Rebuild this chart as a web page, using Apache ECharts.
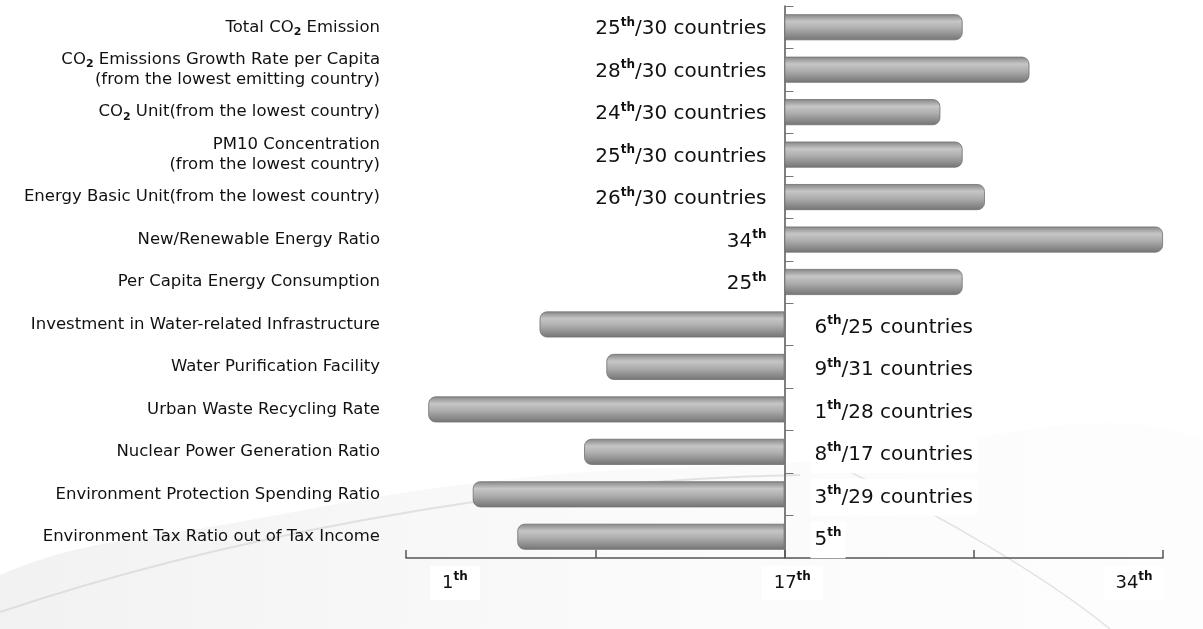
<!DOCTYPE html>
<html>
<head>
<meta charset="utf-8">
<title>Environmental Indicator Rankings</title>
<script src="https://cdn.jsdelivr.net/npm/echarts@6/dist/echarts.min.js"></script>
<style>
  html, body { margin: 0; padding: 0; background: #ffffff; }
  #chart { width: 1203px; height: 629px; }
</style>
</head>
<body>
<div id="chart"></div>
<script>
// Indicators, top to bottom
const categories = [
  'Total CO₂ Emission',
  'CO₂ Emissions Growth Rate per Capita\n(from the lowest emitting country)',
  'CO₂ Unit(from the lowest country)',
  'PM10 Concentration\n(from the lowest country)',
  'Energy Basic Unit(from the lowest country)',
  'New/Renewable Energy Ratio',
  'Per Capita Energy Consumption',
  'Investment in Water-related Infrastructure',
  'Water Purification Facility',
  'Urban Waste Recycling Rate',
  'Nuclear Power Generation Ratio',
  'Environment Protection Spending Ratio',
  'Environment Tax Ratio out of Tax Income'
];

// Rank of each indicator
const ranks = [25, 28, 24, 25, 26, 34, 25, 6, 9, 1, 8, 3, 5];

// Number of countries compared (null where not stated)
const countryCounts = [30, 30, 30, 30, 30, null, null, 25, 31, 28, 17, 29, null];

// Rank axis: middle rank and tick labels
const midRank = 17;
const tickLabels = ['1', '17', '34'];

const chart = echarts.init(document.getElementById('chart'));

const FONT = '"DejaVu Sans", "Liberation Sans", sans-serif';

// distances from the middle rank
const offsets = ranks.map(r => r - midRank);
const rightData = offsets.map(v => (v > 0 ? v : '-'));
const leftData = offsets.map(v => (v < 0 ? v : '-'));

function rankLabel(i) {
  const r = ranks[i];
  const n = countryCounts[i];
  return '{n|' + r + '}{s|th}' + (n != null ? '{n|/' + n + ' countries}' : '');
}

function categoryLabel(text) {
  return text.split('\n').map(line =>
    line.split('₂').map(part => '{c|' + part + '}').join('{sub|2}')
  ).join('\n');
}

const rankRich = {
  n: { fontSize: 20, fontFamily: FONT, color: '#111', lineHeight: 25 },
  s: { fontSize: 12, fontFamily: FONT, fontWeight: 'bold', color: '#111', lineHeight: 14, verticalAlign: 'top' }
};

const barGradient = new echarts.graphic.LinearGradient(0, 0, 0, 1, [
  { offset: 0, color: '#858585' },
  { offset: 0.28, color: '#c6c6c6' },
  { offset: 0.55, color: '#adadad' },
  { offset: 1, color: '#747474' }
]);

// tick label anchors on the distance axis
const tickLabelAt = [-14.8, 0.35, 15.7];

const option = {
  animation: false,
  backgroundColor: '#ffffff',
  graphic: [
    {
      type: 'polygon', silent: true, z: -10,
      shape: {
        points: [[0, 629], [0, 575], [250, 520], [520, 478], [800, 462], [1203, 440], [1203, 629]],
        smooth: 0.4
      },
      style: {
        fill: new echarts.graphic.LinearGradient(0, 0, 1, 0, [
          { offset: 0, color: 'rgba(232,232,232,0.6)' },
          { offset: 0.5, color: 'rgba(244,244,244,0.45)' },
          { offset: 1, color: 'rgba(250,250,250,0.3)' }
        ])
      }
    },
    {
      type: 'bezierCurve', silent: true, z: -9,
      shape: { x1: 0, y1: 612, cpx1: 200, cpy1: 545, cpx2: 500, cpy2: 480, x2: 800, y2: 475 },
      style: { stroke: 'rgba(205,205,205,0.55)', lineWidth: 2, fill: null }
    },
    {
      type: 'bezierCurve', silent: true, z: -9,
      shape: { x1: 850, y1: 472, cpx1: 950, cpy1: 520, cpx2: 1050, cpy2: 580, x2: 1110, y2: 629 },
      style: { stroke: 'rgba(210,210,210,0.6)', lineWidth: 1.5, fill: null }
    }
  ],
  grid: { left: 406, right: 40, top: 6, bottom: 71, containLabel: false },
  xAxis: {
    type: 'value',
    min: -midRank,
    max: midRank,
    interval: midRank / 2,
    axisLine: { show: true, lineStyle: { color: '#555', width: 1.5 } },
    axisTick: { show: true, inside: true, length: 8, lineStyle: { color: '#555', width: 1.5 } },
    splitLine: { show: false },
    axisLabel: {
      customValues: tickLabelAt,
      margin: 8,
      formatter: function (v) {
        const i = tickLabelAt.indexOf(v);
        return i < 0 ? '' : '{n|' + tickLabels[i] + '}{s|th}';
      },
      backgroundColor: '#ffffff',
      padding: [5, 12, 5, 12],
      rich: {
        n: { fontSize: 18, fontFamily: FONT, color: '#111', lineHeight: 24 },
        s: { fontSize: 12, fontFamily: FONT, fontWeight: 'bold', color: '#111', lineHeight: 14, verticalAlign: 'top' }
      }
    }
  },
  yAxis: [
    {
      type: 'category',
      inverse: true,
      data: categories,
      axisLine: { show: true, onZero: true, lineStyle: { color: '#555', width: 1.5 } },
      axisTick: { show: true, inside: true, length: 9, lineStyle: { color: '#777', width: 1 } },
      axisLabel: { show: false }
    },
    {
      type: 'category',
      inverse: true,
      position: 'left',
      data: categories,
      axisLine: { show: false },
      axisTick: { show: false },
      axisLabel: {
        margin: 26,
        align: 'right',
        formatter: categoryLabel,
        rich: {
          c: { fontSize: 16.5, fontFamily: FONT, color: '#111', lineHeight: 20 },
          sub: { fontSize: 11, fontFamily: FONT, fontWeight: 'bold', color: '#111', lineHeight: 20, verticalAlign: 'bottom' }
        }
      }
    }
  ],
  series: [
    {
      name: 'above middle',
      type: 'bar',
      yAxisIndex: 0,
      data: rightData,
      barWidth: 26,
      barGap: '-100%',
      itemStyle: {
        color: barGradient,
        borderColor: '#707070',
        borderWidth: 0.8,
        borderRadius: [0, 7, 7, 0]
      },
      label: {
        show: true,
        position: 'left',
        distance: 18,
        offset: [0, 2],
        formatter: p => rankLabel(p.dataIndex),
        rich: rankRich
      }
    },
    {
      name: 'below middle',
      type: 'bar',
      yAxisIndex: 0,
      data: leftData,
      barWidth: 26,
      barGap: '-100%',
      itemStyle: {
        color: barGradient,
        borderColor: '#707070',
        borderWidth: 0.8,
        borderRadius: [7, 0, 0, 7]
      },
      label: {
        show: true,
        position: 'right',
        distance: 26,
        offset: [0, 3],
        backgroundColor: '#ffffff',
        padding: [6, 4, 6, 4],
        formatter: p => rankLabel(p.dataIndex),
        rich: rankRich
      }
    }
  ]
};

chart.setOption(option);
</script>
</body>
</html>
